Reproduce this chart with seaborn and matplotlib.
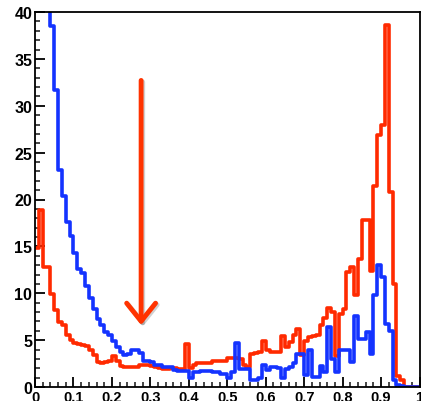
import numpy as np
import pandas as pd
import matplotlib
matplotlib.use("Agg")
import matplotlib.pyplot as plt
import matplotlib.transforms as mtransforms
from matplotlib.ticker import MultipleLocator
import seaborn as sns

# ---- data: 100 bins on [0, 1] ----
n_bins = 100
red_counts = [
    14.8, 18.9, 12.8, 12.8, 9.9, 8.2, 6.9, 6.6, 5.5, 5.0,
    4.7, 4.6, 4.5, 4.4, 3.9, 3.4, 2.7, 2.6, 2.7, 2.8,
    3.3, 2.8, 2.2, 2.1, 2.1, 2.1, 2.1, 2.3, 2.3, 2.4,
    2.2, 2.1, 2.0, 1.9, 1.9, 2.0, 2.0, 1.9, 1.9, 4.6,
    2.0, 2.3, 2.6, 2.6, 2.6, 2.6, 2.8, 2.8, 2.8, 2.8,
    3.1, 3.1, 3.1, 3.0, 2.3, 2.1, 3.5, 3.6, 3.7, 4.9,
    4.0, 3.7, 3.7, 3.7, 5.4, 4.3, 4.8, 5.5, 6.2, 3.4,
    4.9, 5.3, 5.4, 5.5, 6.6, 7.4, 8.4, 8.0, 3.3, 7.8,
    8.3, 12.3, 12.8, 9.8, 13.7, 17.8, 17.8, 12.4, 21.4, 26.9,
    27.9, 38.6, 20.8, 11.0, 1.2, 0.8, 0.0, 0.0, 0.0, 0.0,
]
blue_counts = [
    48.0, 46.0, 44.0, 42.0, 38.5, 31.7, 23.1, 20.4, 17.6, 16.1,
    14.3, 12.6, 12.2, 10.8, 9.5, 8.3, 7.3, 6.6, 5.9, 5.5,
    4.9, 4.3, 3.7, 3.4, 3.5, 4.0, 4.0, 3.6, 2.8, 2.8,
    2.7, 2.4, 2.3, 2.1, 2.1, 2.1, 1.8, 1.7, 1.7, 1.7,
    1.0, 1.6, 1.6, 1.7, 1.7, 1.7, 1.6, 1.6, 1.4, 1.4,
    1.0, 1.6, 4.7, 1.9, 1.9, 1.9, 0.8, 0.7, 1.0, 2.3,
    1.8, 2.1, 2.1, 2.0, 1.0, 1.9, 2.1, 2.6, 3.5, 3.5,
    1.3, 3.9, 1.1, 1.1, 2.2, 1.6, 6.4, 3.0, 1.6, 3.9,
    3.9, 3.9, 2.7, 7.6, 5.1, 5.1, 5.9, 3.5, 9.8, 13.0,
    11.7, 6.7, 6.0, 0.7, 0.2, 0.1, 0.0, 0.0, 0.0, 0.0,
]
y_ticks = [0, 5, 10, 15, 20, 25, 30, 35, 40]
x_ticks = [0, 0.1, 0.2, 0.3, 0.4, 0.5, 0.6, 0.7, 0.8, 0.9, 1]
x_ticklabels = ["0", "0.1", "0.2", "0.3", "0.4", "0.5", "0.6", "0.7", "0.8", "0.9", "1"]
arrow_x = 0.276
arrow_top = 32.7
arrow_tip = 6.6

edges = np.linspace(0, 1, n_bins + 1)
centers = (edges[:-1] + edges[1:]) / 2
red_df = pd.DataFrame({"x": centers, "w": red_counts})
blue_df = pd.DataFrame({"x": centers, "w": blue_counts})

sns.set_style("ticks")
plt.rcParams["font.family"] = ["Liberation Sans", "DejaVu Sans"]

fig = plt.figure(figsize=(4.21, 4.02), dpi=100)
ax = fig.add_axes([35 / 421, 14 / 402, 384.5 / 421, 375 / 402])

RED = "#ff2a00"
BLUE = "#1433ff"
lw = 2.6
sns.histplot(data=red_df, x="x", weights="w", bins=n_bins, binrange=(0, 1),
             element="step", fill=False, color=RED, linewidth=lw, ax=ax)
sns.histplot(data=blue_df, x="x", weights="w", bins=n_bins, binrange=(0, 1),
             element="step", fill=False, color=BLUE, linewidth=lw, ax=ax)

ax.set_xlim(0, 1)
ax.set_ylim(0, 40)
ax.set_xlabel("")
ax.set_ylabel("")

ax.set_xticks(x_ticks)
ax.set_xticklabels(x_ticklabels)
ax.set_yticks(y_ticks)
ax.xaxis.set_minor_locator(MultipleLocator(0.02))
ax.yaxis.set_minor_locator(MultipleLocator(1))
ax.tick_params(axis="both", which="major", direction="in", length=7.5, width=1.3,
               colors="black")
ax.tick_params(axis="both", which="minor", direction="in", length=3.8, width=1.2)
ax.tick_params(axis="x", which="major", pad=2.5, labelsize=10.5)
ax.tick_params(axis="y", which="major", pad=2.0, labelsize=11.5)
for lab in ax.get_xticklabels() + ax.get_yticklabels():
    lab.set_fontweight("bold")

for side in ["left", "bottom", "top", "right"]:
    ax.spines[side].set_visible(True)
    ax.spines[side].set_linewidth(1.3)
    ax.spines[side].set_color("black")

arrow_style = "->,head_length=1.0,head_width=0.8"
# soft shadow: same arrow shifted slightly down-right in light gray
shadow_tr = mtransforms.offset_copy(ax.transData, fig=fig, x=1.6, y=-1.6, units="dots")
ax.annotate("", xy=(arrow_x, arrow_tip), xytext=(arrow_x, arrow_top),
            xycoords=shadow_tr, textcoords=shadow_tr,
            arrowprops=dict(arrowstyle=arrow_style, color="#000000", alpha=0.18,
                            lw=3.5, shrinkA=0, shrinkB=0, mutation_scale=13,
                            capstyle="round", joinstyle="round"))
ax.annotate("", xy=(arrow_x, arrow_tip), xytext=(arrow_x, arrow_top),
            arrowprops=dict(arrowstyle=arrow_style, color="#ff3300",
                            lw=3.5, shrinkA=0, shrinkB=0, mutation_scale=13,
                            capstyle="round", joinstyle="round"))

fig.savefig("out.png", dpi=100)
